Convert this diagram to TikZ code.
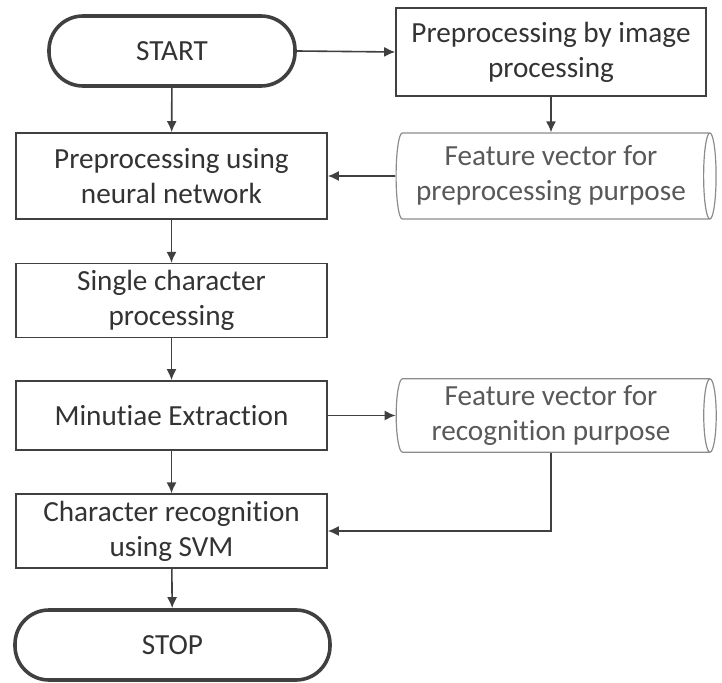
\documentclass[tikz,border=0pt]{standalone}
\usepackage{fontspec}
\setmainfont{Carlito}[Ligatures=NoCommon]
\usetikzlibrary{shapes.geometric}
\usetikzlibrary{arrows.meta}

\begin{document}
\begin{tikzpicture}[x=0.5pt, y=-0.5pt, >={Latex[length=5.5pt,width=5pt]},
	font=\fontsize{14.6}{17.5}\selectfont,
	proc/.style={draw=black!75, line width=0.8pt, text=black!80, align=center, minimum width=155.5pt},
	term/.style={draw=black!75, line width=1.8pt, rounded corners=17pt, text=black!80, minimum height=35pt},
	store/.style={cylinder, draw=black!45, line width=0.6pt, text=black!65, align=center, aspect=0.17, minimum height=160pt},
	link/.style={draw=black!75, line width=0.8pt, ->}]
	\useasboundingbox (0,0) rectangle (722,683);
	% left column
	\node [term, minimum width=123pt] (start) at (172,51) {START};
	\node [proc, minimum height=43pt] (nnet) at (171.5,176) {Preprocessing using\\neural network};
	\node [proc, minimum height=34.5pt] (single) at (171.5,300.5) {Single character\\processing};
	\node [proc, minimum height=34.5pt] (minut) at (171.5,415.5) {Minutiae Extraction};
	\node [proc, minimum height=35pt] (svm) at (171.5,531) {Character recognition\\using SVM};
	\node [term, minimum width=157.5pt] (stop) at (172.5,645) {STOP};
	% right column
	\node [proc, minimum width=155pt, minimum height=44pt] (imgproc) at (551,52) {Preprocessing by image\\processing};
	\node [store, minimum width=43pt] (fvpre) at (551,176) {Feature vector for\\preprocessing purpose};
	\node [store, minimum width=34.5pt] (fvrec) at (551,415.5) {Feature vector for\\recognition purpose};
	% connectors
	\draw [link] (start) -- (nnet);
	\draw [link] (nnet) -- (single);
	\draw [link] (single) -- (minut);
	\draw [link] (minut) -- (svm);
	\draw [link] (svm) -- (stop);
	\draw [link] (start.east) -- (imgproc.west);
	\draw [link] (imgproc.south) -- (imgproc.south |- fvpre.north);
	\draw [link] (fvpre.west) -- (nnet.east);
	\draw [link] (minut.east) -- (fvrec.west);
	\draw [link] (fvrec.south -| imgproc.south) |- (svm.east);
\end{tikzpicture}
\end{document}
